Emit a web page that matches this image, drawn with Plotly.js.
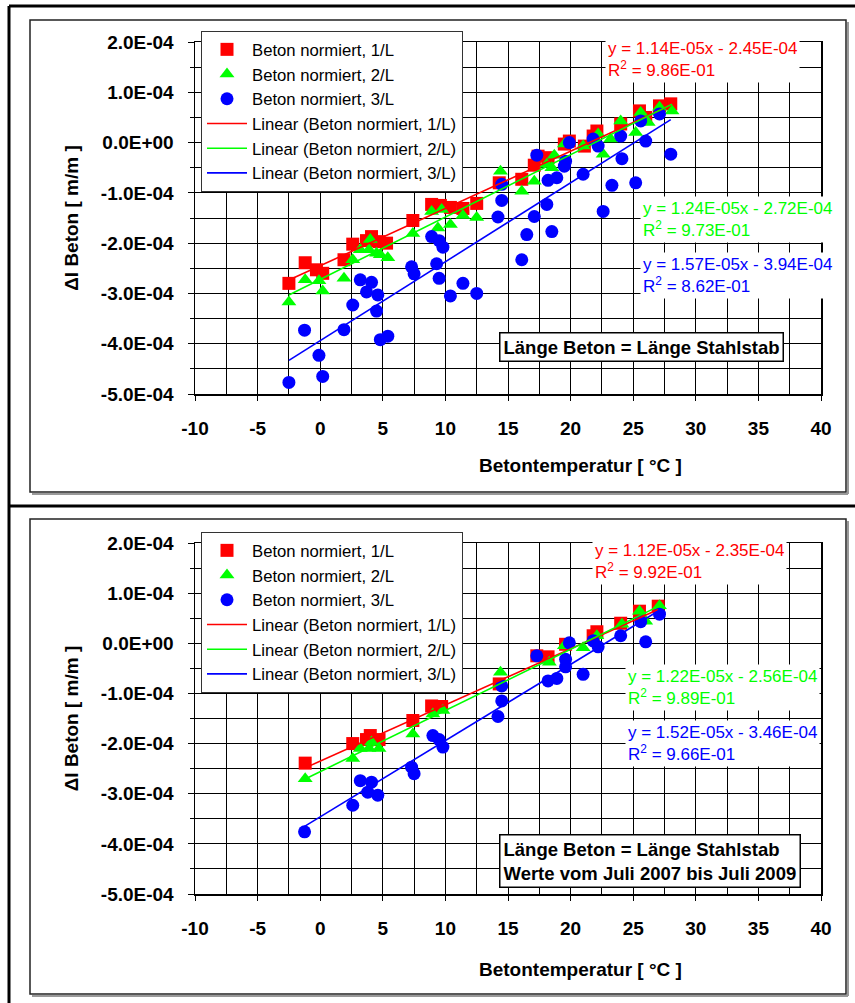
<!DOCTYPE html>
<html>
<head>
<meta charset="utf-8">
<script src="https://cdn.plot.ly/plotly-3.0.1.min.js"></script>
<style>
  html, body { margin: 0; padding: 0; background: #fff; }
  #chart { width: 855px; height: 1003px; }
</style>
</head>
<body>
<div id="chart"></div>
<script>
// ---------- DATA (strain values in units of 1E-04 m/m) ----------
const UNIT = 1e-4;
const seriesNames = ['Beton normiert, 1/L', 'Beton normiert, 2/L', 'Beton normiert, 3/L'];

// Upper chart: all values
const top1x = [-2.5, -1.2, -0.3, 0.2, 1.9, 2.6, 3.7, 4.1, 4.7, 5.3, 7.4, 8.9, 9.6, 10.4, 11.4, 12.5, 14.3, 16.1, 17.1, 17.4, 18.2, 19.5, 19.9, 21.1, 21.8, 22.1, 24.0, 25.5, 26.0, 27.1, 28.0];
const top1y = [-2.8, -2.39, -2.53, -2.6, -2.33, -2.02, -1.95, -1.87, -1.97, -2.0, -1.55, -1.23, -1.25, -1.29, -1.31, -1.21, -0.8, -0.73, -0.45, -0.27, -0.3, -0.03, 0.03, -0.07, 0.13, 0.23, 0.37, 0.63, 0.5, 0.73, 0.77];
const top2x = [-2.5, -1.2, -0.1, 0.2, 1.9, 2.6, 3.2, 3.9, 4.0, 4.5, 4.8, 5.4, 7.4, 8.9, 9.4, 9.7, 10.4, 11.4, 12.5, 14.4, 16.1, 17.1, 18.1, 18.5, 18.7, 19.5, 21.0, 22.2, 22.6, 23.2, 24.0, 25.2, 25.6, 26.2, 27.1, 28.1];
const top2y = [-3.17, -2.73, -2.75, -2.95, -2.7, -2.33, -2.13, -2.13, -1.93, -2.2, -2.23, -2.29, -1.81, -1.37, -1.7, -1.33, -1.63, -1.45, -1.49, -0.57, -0.97, -0.77, -0.43, -0.5, -0.25, -0.03, -0.07, 0.17, -0.23, 0.07, 0.43, 0.2, 0.6, 0.4, 0.7, 0.63];
const top3x = [-2.5, -1.25, -0.1, 0.2, 1.9, 2.6, 3.2, 3.7, 4.1, 4.6, 4.5, 4.8, 5.4, 7.3, 7.5, 8.9, 9.5, 9.8, 9.3, 9.5, 10.4, 11.4, 12.5, 14.2, 14.5, 14.5, 16.5, 16.1, 17.1, 17.3, 18.1, 18.5, 18.2, 18.9, 19.5, 19.6, 19.9, 21.0, 21.8, 22.2, 22.6, 23.3, 24.1, 24.0, 25.2, 25.6, 26.0, 27.1, 28.0];
const top3y = [-4.77, -3.73, -4.23, -4.65, -3.72, -3.23, -2.73, -2.97, -2.78, -3.03, -3.35, -3.92, -3.85, -2.47, -2.61, -1.87, -1.95, -2.08, -2.41, -2.7, -3.05, -2.8, -3.0, -1.48, -1.15, -0.83, -1.83, -2.33, -1.47, -0.25, -1.23, -1.77, -0.75, -0.7, -0.47, -0.37, 0.0, -0.63, 0.07, -0.07, -1.37, -0.85, -0.32, 0.13, -0.8, 0.43, 0.03, 0.57, -0.23];

// Lower chart: values from July 2007 to July 2009
const bot1x = [-1.2, 2.6, 3.7, 4.0, 4.7, 7.4, 8.9, 9.7, 14.3, 17.3, 18.2, 19.6, 21.8, 22.1, 24.0, 25.5, 27.0];
const bot1y = [-2.39, -2.0, -1.92, -1.84, -1.92, -1.54, -1.25, -1.26, -0.81, -0.25, -0.27, -0.02, 0.15, 0.23, 0.4, 0.64, 0.74];
const bot2x = [-1.2, 2.6, 3.2, 3.9, 4.1, 4.7, 7.4, 9.0, 9.8, 14.4, 18.3, 19.5, 21.0, 22.1, 24.1, 25.5, 26.0, 27.1];
const bot2y = [-2.7, -2.3, -2.1, -2.1, -1.97, -2.1, -1.81, -1.41, -1.34, -0.58, -0.38, -0.05, -0.09, 0.15, 0.38, 0.64, 0.44, 0.75];
const bot3x = [-1.25, 2.6, 3.2, 3.8, 4.1, 4.6, 7.3, 7.5, 9.0, 9.5, 9.8, 14.2, 14.5, 14.5, 17.3, 18.2, 18.9, 19.6, 19.6, 19.9, 21.0, 21.8, 22.2, 24.0, 25.6, 26.0, 27.1];
const bot3y = [-3.76, -3.23, -2.74, -2.97, -2.77, -3.03, -2.47, -2.6, -1.84, -1.92, -2.07, -1.46, -1.15, -0.85, -0.25, -0.75, -0.7, -0.47, -0.32, 0.01, -0.62, 0.05, -0.07, 0.15, 0.43, 0.03, 0.58];

// Linear trend lines (as given in the chart)
const topSlope = [1.14e-5, 1.24e-5, 1.57e-5];
const topIntercept = [-2.45e-4, -2.72e-4, -3.94e-4];
const topR2 = [0.986, 0.973, 0.862];
const botSlope = [1.12e-5, 1.22e-5, 1.52e-5];
const botIntercept = [-2.35e-4, -2.56e-4, -3.46e-4];
const botR2 = [0.992, 0.989, 0.966];

// Axis ticks and titles
const xTicks = [-10, -5, 0, 5, 10, 15, 20, 25, 30, 35, 40];
const yTickVals = [2e-4, 1e-4, 0, -1e-4, -2e-4, -3e-4, -4e-4, -5e-4];
const yTickText = ['2.0E-04', '1.0E-04', '0.0E+00', '-1.0E-04', '-2.0E-04', '-3.0E-04', '-4.0E-04', '-5.0E-04'];
const xTitle = 'Betontemperatur [ °C ]';
const yTitle = 'Δl Beton [ m/m ]';

const boxTop = ['Länge Beton = Länge Stahlstab'];
const boxBottom = ['Länge Beton = Länge Stahlstab', 'Werte vom Juli 2007 bis Juli 2009'];

// ---------- STYLE ----------
const FONT = 'Liberation Sans, Arial, sans-serif';
const colors = ['#ff0000', '#00ff00', '#0000ff'];
const symbols = ['square', 'triangle-up', 'circle'];
const W = 855, H = 1003;
const px = v => v / W;
const py = v => 1 - v / H;

function fmtE(v) {
  const s = Math.abs(v).toExponential(2).toUpperCase();
  const m = s.match(/^([\d.]+)E([+-])(\d+)$/);
  return m[1] + 'E' + m[2] + m[3].padStart(2, '0');
}
function eqText(slope, icpt, r2) {
  const sign = icpt < 0 ? ' - ' : ' + ';
  return 'y = ' + fmtE(slope) + 'x' + sign + fmtE(icpt) + '<br>R<sup>2</sup> = ' + fmtE(r2);
}

const traces = [];
function addChart(xs, ys, slopes, icpts, xa, ya, legend) {
  for (let i = 0; i < 3; i++) {
    traces.push({
      type: 'scatter', mode: 'markers', name: seriesNames[i],
      x: xs[i], y: ys[i].map(v => v * UNIT),
      marker: { symbol: symbols[i], color: colors[i], size: 13, line: { width: 0 } },
      xaxis: xa, yaxis: ya, legend: legend, cliponaxis: false
    });
  }
  for (let i = 0; i < 3; i++) {
    const x0 = Math.min(...xs[i]), x1 = Math.max(...xs[i]);
    traces.push({
      type: 'scatter', mode: 'lines', name: 'Linear (' + seriesNames[i] + ')',
      x: [x0, x1], y: [slopes[i] * x0 + icpts[i], slopes[i] * x1 + icpts[i]],
      line: { color: colors[i], width: 1.6 },
      xaxis: xa, yaxis: ya, legend: legend
    });
  }
}
addChart([top1x, top2x, top3x], [top1y, top2y, top3y], topSlope, topIntercept, 'x', 'y', 'legend');
addChart([bot1x, bot2x, bot3x], [bot1y, bot2y, bot3y], botSlope, botIntercept, 'x2', 'y2', 'legend2');

const tickFont = { family: FONT, size: 19, color: '#000', weight: 'bold' };
const titleFont = { family: FONT, size: 19, color: '#000', weight: 'bold' };

function xAxis(anchor) {
  return {
    anchor: anchor, domain: [px(195), px(821)], range: [-10, 40],
    tickmode: 'array', tickvals: xTicks, ticktext: xTicks.map(String),
    showgrid: true, gridcolor: '#000', gridwidth: 1, zeroline: false,
    minor: { tickmode: 'linear', tick0: 0, dtick: 2.5, showgrid: true, gridcolor: '#000', gridwidth: 1 },
    showline: true, linecolor: '#000', linewidth: 1.5, mirror: true,
    ticks: 'outside', ticklen: 5, tickcolor: '#000',
    tickfont: tickFont, ticklabelstandoff: 12
  };
}
function yAxis(anchor, top, bottom) {
  return {
    anchor: anchor, domain: [py(bottom), py(top)], range: [-5e-4, 2e-4],
    tickmode: 'array', tickvals: yTickVals, ticktext: yTickText,
    showgrid: true, gridcolor: '#000', gridwidth: 1, zeroline: false,
    minor: { tickmode: 'linear', tick0: 0, dtick: 5e-5, showgrid: true, gridcolor: '#000', gridwidth: 1, ticks: 'outside', ticklen: 4, tickcolor: '#000' },
    showline: true, linecolor: '#000', linewidth: 1.5, mirror: true,
    ticks: 'outside', ticklen: 6, tickcolor: '#000',
    tickfont: tickFont, ticklabelstandoff: 10,
    title: { text: yTitle, font: titleFont, standoff: 17 }
  };
}

function frame(t, b) {
  return [
    { type: 'line', xref: 'paper', yref: 'paper', x0: px(32), x1: px(848), y0: py(b + 2), y1: py(b + 2), line: { color: '#999', width: 2 } },
    { type: 'line', xref: 'paper', yref: 'paper', x0: px(848), x1: px(848), y0: py(t + 2), y1: py(b + 2), line: { color: '#999', width: 2 } },
    { type: 'rect', xref: 'paper', yref: 'paper', x0: px(30), x1: px(846), y0: py(b), y1: py(t), line: { color: '#222', width: 1.5 } }
  ];
}
const shapes = [
  { type: 'line', xref: 'paper', yref: 'paper', x0: px(9), x1: px(9), y0: py(1003), y1: py(6), line: { color: '#000', width: 3 } },
  { type: 'line', xref: 'paper', yref: 'paper', x0: px(9), x1: px(855), y0: py(6), y1: py(6), line: { color: '#000', width: 3 } },
  { type: 'line', xref: 'paper', yref: 'paper', x0: px(9), x1: px(855), y0: py(506), y1: py(506), line: { color: '#000', width: 3 } },
  ...frame(20, 492), ...frame(519, 994)
];

function eqAnn(xPix, yPix, i, slopes, icpts, r2s) {
  return {
    xref: 'paper', yref: 'paper', x: px(xPix), y: py(yPix), xanchor: 'left', yanchor: 'top',
    align: 'left', showarrow: false, bgcolor: '#fff', borderpad: 2,
    text: eqText(slopes[i], icpts[i], r2s[i]),
    font: { family: FONT, size: 17, color: colors[i] }
  };
}
function boxAnn(xPix, yPix, lines) {
  return {
    xref: 'paper', yref: 'paper', x: px(xPix), y: py(yPix), xanchor: 'center', yanchor: 'middle',
    align: 'left', showarrow: false, bgcolor: '#fff', bordercolor: '#000', borderwidth: 1.5, borderpad: 3,
    text: lines.join('<br>'),
    font: { family: FONT, size: 18.5, color: '#000', weight: 'bold' }
  };
}
function xTitleAnn(yPix) {
  return {
    xref: 'paper', yref: 'paper', x: px(580), y: py(yPix), xanchor: 'center', yanchor: 'middle',
    showarrow: false, text: xTitle, font: titleFont
  };
}
const annotations = [
  eqAnn(605, 36, 0, topSlope, topIntercept, topR2),
  eqAnn(640, 196, 1, topSlope, topIntercept, topR2),
  eqAnn(640, 252, 2, topSlope, topIntercept, topR2),
  boxAnn(641, 347, boxTop),
  xTitleAnn(465),
  eqAnn(592, 538, 0, botSlope, botIntercept, botR2),
  eqAnn(625, 664, 1, botSlope, botIntercept, botR2),
  eqAnn(625, 720, 2, botSlope, botIntercept, botR2),
  boxAnn(650, 861, boxBottom),
  xTitleAnn(969)
];

function legendCfg(yPix) {
  return {
    x: px(201), y: py(yPix), xanchor: 'left', yanchor: 'top',
    bgcolor: '#fff', bordercolor: '#333', borderwidth: 1,
    font: { family: FONT, size: 16.7, color: '#000' },
    itemwidth: 40, traceorder: 'normal'
  };
}

const layout = {
  width: W, height: H,
  margin: { l: 0, r: 0, t: 0, b: 0, pad: 0 },
  paper_bgcolor: '#fff', plot_bgcolor: '#fff',
  showlegend: true,
  font: { family: FONT, color: '#000' },
  xaxis: xAxis('y'), yaxis: yAxis('x', 42, 394),
  xaxis2: xAxis('y2'), yaxis2: yAxis('x2', 543, 894),
  legend: legendCfg(31), legend2: legendCfg(532),
  shapes: shapes, annotations: annotations
};

Plotly.newPlot('chart', traces, layout, { displayModeBar: false, staticPlot: true });
</script>
</body>
</html>
